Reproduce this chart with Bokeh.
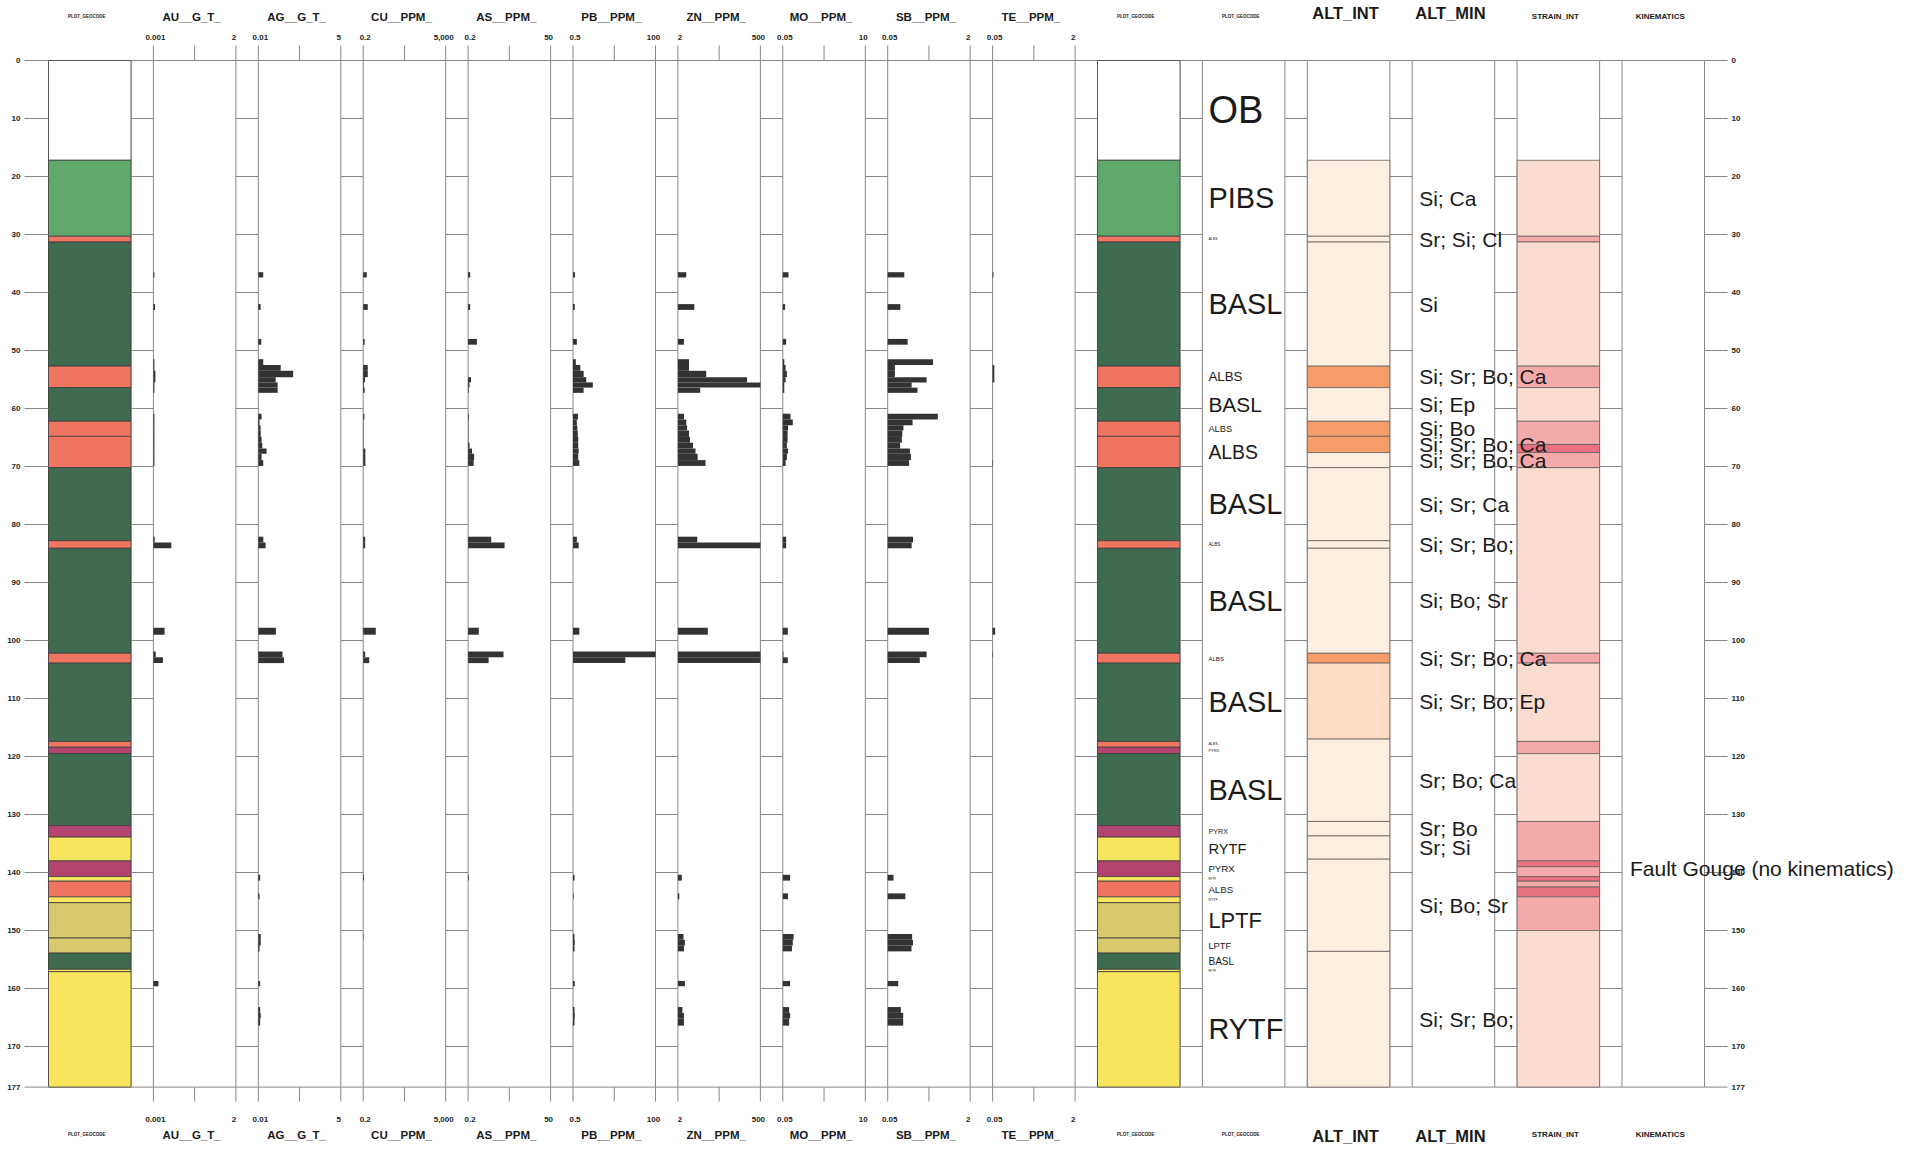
import numpy as np
from bokeh.plotting import figure
from bokeh.models import Range1d, LogScale, LinearScale, CoordinateMapping, ColumnDataSource
from bokeh.embed import file_html
from bokeh.resources import INLINE
from bokeh.core.properties import value

# ---------------- data ----------------
depth_ticks = [0, 10, 20, 30, 40, 50, 60, 70, 80, 90, 100, 110, 120, 130, 140, 150, 160, 170, 177]
DEPTH_MAX = 177

track_names = ["PLOT_GEOCODE", "AU__G_T_", "AG__G_T_", "CU__PPM_", "AS__PPM_", "PB__PPM_",
               "ZN__PPM_", "MO__PPM_", "SB__PPM_", "TE__PPM_", "PLOT_GEOCODE", "PLOT_GEOCODE",
               "ALT_INT", "ALT_MIN", "STRAIN_INT", "KINEMATICS"]

elem_keys = ["AU", "AG", "CU", "AS", "PB", "ZN", "MO", "SB", "TE"]
elem_min = [0.001, 0.01, 0.2, 0.2, 0.5, 2, 0.05, 0.05, 0.05]
elem_max = [2, 5, 5000, 50, 100, 500, 10, 2, 2]
elem_min_label = ["0.001", "0.01", "0.2", "0.2", "0.5", "2", "0.05", "0.05", "0.05"]
elem_max_label = ["2", "5", "5,000", "50", "100", "500", "10", "2", "2"]

geo_from = [0, 17.2, 30.3, 31.3, 52.7, 56.4, 62.2, 64.8, 70.2, 82.8, 84.1, 102.2, 103.9, 117.4,
            118.4, 119.5, 131.9, 133.9, 138.0, 140.7, 141.5, 144.2, 145.2, 151.3, 153.9, 156.7, 157.1]
geo_to = [17.2, 30.3, 31.3, 52.7, 56.4, 62.2, 64.8, 70.2, 82.8, 84.1, 102.2, 103.9, 117.4, 118.4,
          119.5, 131.9, 133.9, 138.0, 140.7, 141.5, 144.2, 145.2, 151.3, 153.9, 156.7, 157.1, 177]
geo_code = ["OB", "PIBS", "ALBS", "BASL", "ALBS", "BASL", "ALBS", "ALBS", "BASL", "ALBS", "BASL",
            "ALBS", "BASL", "ALBS", "PYRX", "BASL", "PYRX", "RYTF", "PYRX", "RYTF", "ALBS", "RYTF",
            "LPTF", "LPTF", "BASL", "RYTF", "RYTF"]

smp_from = [36.5, 42.0, 48.0, 51.5, 52.5, 53.5, 54.6, 55.5, 56.4, 60.9, 61.9, 62.9, 63.8, 64.9,
            65.9, 66.9, 67.8, 68.9, 82.1, 83.1, 97.8, 101.9, 102.9, 140.4, 143.6, 150.6, 151.6,
            152.6, 158.7, 163.2, 164.2, 165.2]
smp_to = [37.4, 43.0, 49.0, 52.5, 53.5, 54.6, 55.5, 56.4, 57.3, 61.9, 62.9, 63.8, 64.9, 65.9,
          66.9, 67.8, 68.9, 69.9, 83.1, 84.1, 99.0, 102.9, 103.9, 141.4, 144.6, 151.6, 152.6,
          153.6, 159.6, 164.2, 165.2, 166.4]

au = [0.0011, 0.00116, 0.001, 0.0011, 0.0011, 0.0012, 0.0012, 0.0011, 0.0011, 0.0011, 0.0011,
      0.0011, 0.0011, 0.0011, 0.0011, 0.0011, 0.0011, 0.0011, 0.00113, 0.0052, 0.0028, 0.00124,
      0.0024, 0.001, 0.001, 0.001, 0.001, 0.001, 0.0016, 0.001, 0.001, 0.001]
ag = [0.0145, 0.0119, 0.0125, 0.0145, 0.054, 0.138, 0.037, 0.043, 0.043, 0.0128, 0.011, 0.0119,
      0.012, 0.0128, 0.0135, 0.0186, 0.0128, 0.0145, 0.0146, 0.0174, 0.0377, 0.062, 0.069, 0.0115,
      0.011, 0.012, 0.012, 0.011, 0.0115, 0.0115, 0.012, 0.0115]
cu = [0.31, 0.35, 0.24, 0.2, 0.35, 0.35, 0.25, 0.22, 0.24, 0.23, 0.21, 0.21, 0.21, 0.21, 0.21,
      0.26, 0.26, 0.26, 0.255, 0.255, 0.94, 0.255, 0.42, 0.22, 0.2, 0.21, 0.2, 0.2, 0.2, 0.2, 0.2, 0.2]
as_ = [0.23, 0.23, 0.36, 0.2, 0.2, 0.2, 0.244, 0.22, 0.21, 0.21, 0.205, 0.205, 0.205, 0.205, 0.22,
       0.26, 0.3, 0.29, 0.94, 2.3, 0.41, 2.14, 0.79, 0.21, 0.2, 0.2, 0.2, 0.2, 0.2, 0.2, 0.2, 0.2]
pb = [0.57, 0.56, 0.64, 0.6, 0.8, 0.99, 1.17, 1.79, 0.99, 0.69, 0.64, 0.66, 0.68, 0.7, 0.7, 0.72,
      0.7, 0.75, 0.64, 0.72, 0.75, 100, 14.4, 0.55, 0.52, 0.55, 0.56, 0.55, 0.56, 0.55, 0.56, 0.55]
zn = [3.5, 6.0, 3.0, 4.2, 4.2, 13.3, 204, 500, 8.9, 3.0, 3.5, 3.7, 4.2, 4.5, 5.5, 6.5, 7.5, 12.7,
      7.3, 500, 14.8, 500, 500, 2.6, 2.2, 2.9, 3.2, 3.0, 3.2, 2.7, 3.0, 3.0]
mo = [0.072, 0.058, 0.062, 0.055, 0.06, 0.065, 0.06, 0.055, 0.055, 0.082, 0.095, 0.07, 0.068,
      0.068, 0.065, 0.07, 0.065, 0.06, 0.062, 0.062, 0.069, 0.052, 0.069, 0.08, 0.07, 0.1, 0.095,
      0.09, 0.08, 0.075, 0.08, 0.075]
sb = [0.105, 0.088, 0.122, 0.38, 0.069, 0.069, 0.285, 0.146, 0.19, 0.47, 0.152, 0.101, 0.096,
      0.094, 0.087, 0.135, 0.141, 0.13, 0.155, 0.146, 0.316, 0.285, 0.21, 0.065, 0.11, 0.149,
      0.155, 0.145, 0.08, 0.09, 0.1, 0.1]
te = [0.052, 0.05, 0.05, 0.05, 0.054, 0.054, 0.054, 0.05, 0.05, 0.05, 0.05, 0.05, 0.05, 0.05,
      0.05, 0.05, 0.05, 0.051, 0.05, 0.05, 0.056, 0.051, 0.05, 0.05, 0.05, 0.05, 0.05, 0.05, 0.05,
      0.05, 0.05, 0.05]

alt_from = [17.2, 30.3, 31.3, 52.7, 56.4, 62.2, 64.8, 67.6, 70.2, 82.8, 84.1, 102.2, 103.9, 117.0,
            131.2, 133.7, 137.7, 153.6]
alt_to = [30.3, 31.3, 52.7, 56.4, 62.2, 64.8, 67.6, 70.2, 82.8, 84.1, 102.2, 103.9, 117.0, 131.2,
          133.7, 137.7, 153.6, 177]
alt_int = ["Weak", "Weak", "Weak", "Strong", "Weak", "Strong", "Strong", "Weak", "Weak", "Weak",
           "Weak", "Strong", "Moderate", "Weak", "Weak", "Weak", "Weak", "Weak"]
alt_min = ["Si; Ca", "Sr; Si; Cl", "Si", "Si; Sr; Bo; Ca", "Si; Ep", "Si; Bo", "Si; Sr; Bo; Ca",
           "Si; Sr; Bo; Ca", "Si; Sr; Ca", "Si; Sr; Bo;", "Si; Bo; Sr", "Si; Sr; Bo; Ca",
           "Si; Sr; Bo; Ep", "Sr; Bo; Ca", "Sr; Bo", "Sr; Si", "Si; Bo; Sr", "Si; Sr; Bo;"]

st_from = [17.2, 30.3, 31.3, 52.7, 56.4, 62.2, 66.2, 67.6, 70.2, 102.2, 103.9, 117.4, 119.5, 131.2,
           138.0, 139.0, 140.7, 141.5, 142.5, 144.2, 150.0]
st_to = [30.3, 31.3, 52.7, 56.4, 62.2, 66.2, 67.6, 70.2, 102.2, 103.9, 117.4, 119.5, 131.2, 138.0,
         139.0, 140.7, 141.5, 142.5, 144.2, 150.0, 177]
st_int = ["Low", "Mod", "Low", "Mod", "Low", "Mod", "High", "Mod", "Low", "Mod", "Low", "Mod",
          "Low", "Mod", "High", "Mod", "High", "Mod", "High", "Mod", "Low"]

kin_from = [138.0]
kin_to = [140.7]
kin_text = ["Fault Gouge (no kinematics)"]

# ---------------- styles / layout ----------------
GEO_COLORS = {"OB": "#ffffff", "PIBS": "#5ea86c", "BASL": "#3f6b50", "ALBS": "#f07561",
              "PYRX": "#b3446f", "RYTF": "#f8e45e", "LPTF": "#d8c96c"}
ALT_COLORS = {"Weak": "#fdefdf", "Moderate": "#fcdcc3", "Strong": "#f59c69"}
ST_COLORS = {"Low": "#fbdcd1", "Mod": "#f4a9aa", "High": "#e8727f"}

W, H = 1916, 1148
X0, PITCH, TW = 48.0, 104.9, 82.5
Y0, PXM = 60.0, 5.80
GRID = "#8c8585"
HDR_FONT = value("Liberation Sans")
TXT_FONT = value("Liberation Sans")


def tl(i):
    return X0 + i * PITCH


def ypx(y_ref):
    return (y_ref - Y0) / PXM


p = figure(width=W, height=H, x_range=Range1d(0, W), y_range=Range1d(ypx(H), ypx(0)),
           output_backend="svg", toolbar_location=None, min_border=0,
           x_axis_location=None, y_axis_location=None, outline_line_color=None,
           background_fill_color="white", border_fill_color="white")
p.grid.visible = False

# track frames
p.quad(left=[tl(i) for i in range(16)], right=[tl(i) + TW for i in range(16)],
       top=0, bottom=DEPTH_MAX, fill_color="white", line_color=GRID, line_width=1)

# geocode columns
geo_src = ColumnDataSource(dict(top=geo_from, bottom=geo_to,
                                color=[GEO_COLORS[c] for c in geo_code]))
for ti in (0, 10):
    p.quad(left=tl(ti), right=tl(ti) + TW, top="top", bottom="bottom", source=geo_src,
           fill_color="color", line_color="#3c3c3c", line_width=0.8)

# alteration intensity
alt_src = ColumnDataSource(dict(top=alt_from, bottom=alt_to,
                                color=[ALT_COLORS[c] for c in alt_int]))
p.quad(left=tl(12), right=tl(12) + TW, top="top", bottom="bottom", source=alt_src,
       fill_color="color", line_color="#6a6060", line_width=0.8)

# strain intensity
st_src = ColumnDataSource(dict(top=st_from, bottom=st_to, color=[ST_COLORS[c] for c in st_int]))
p.quad(left=tl(14), right=tl(14) + TW, top="top", bottom="bottom", source=st_src,
       fill_color="color", line_color="#6a6060", line_width=0.8)

# assay bars (log scale per track)
mid = [(a + b) / 2 for a, b in zip(smp_from, smp_to)]
thk = [b - a for a, b in zip(smp_from, smp_to)]
elem_vals = [au, ag, cu, as_, pb, zn, mo, sb, te]
for k, vals in enumerate(elem_vals):
    L = tl(k + 1)
    src = ColumnDataSource(dict(y=mid, h=thk, v=vals))
    r = p.hbar(y="y", height="h", left=elem_min[k], right="v", source=src,
               fill_color="#333333", line_color=None)
    r.coordinates = CoordinateMapping(
        x_source=Range1d(elem_min[k], elem_max[k]), x_scale=LogScale(),
        x_target=Range1d(L, L + TW),
        y_source=Range1d(0, DEPTH_MAX), y_scale=LinearScale(),
        y_target=Range1d(0, DEPTH_MAX))

# depth ticks in gaps and on both sides
gx0, gx1, gy = [], [], []
for d in depth_ticks:
    for i in range(15):
        gx0.append(tl(i) + TW)
        gx1.append(tl(i + 1))
        gy.append(d)
    gx0 += [24, tl(15) + TW]
    gx1 += [tl(0), tl(15) + TW + 23]
    gy += [d, d]
p.segment(x0=gx0, y0=gy, x1=gx1, y1=gy, line_color=GRID, line_width=1)

# element axis ticks above / below
tx, ty0, ty1 = [], [], []
for k in range(9):
    L = tl(k + 1)
    for x in (L, L + TW / 2, L + TW):
        tx += [x, x]
        ty0 += [ypx(45), DEPTH_MAX]
        ty1 += [0, ypx(1101)]
p.segment(x0=tx, y0=ty0, x1=tx, y1=ty1, line_color=GRID, line_width=1)

# scale labels
lx, ly, lt = [], [], []
for k in range(9):
    L = tl(k + 1)
    for yy in (ypx(37), ypx(1119)):
        lx += [L + 2, L + TW - 2]
        ly += [yy, yy]
        lt += [elem_min_label[k], elem_max_label[k]]
p.text(x=lx, y=ly, text=lt, text_font=HDR_FONT, text_font_style="bold", text_font_size="8px",
       text_align="center", text_baseline="middle", text_color="#222222")

# track headers
hdr_size = {"ALT_INT": "16.5px", "ALT_MIN": "16.5px", "PLOT_GEOCODE": "4.5px",
            "STRAIN_INT": "8px", "KINEMATICS": "8px"}
hx, hy, ht, hs = [], [], [], []
for i, nm in enumerate(track_names):
    size = hdr_size.get(nm, "11.5px")
    big = nm in ("ALT_INT", "ALT_MIN")
    for yy in ((12 if big else 16), (1135 if big else 1134)):
        hx.append(tl(i) + TW / 2 - 3)
        hy.append(ypx(yy))
        ht.append(nm)
        hs.append(size)
p.text(x="x", y="y", text="t", text_font_size="s",
       source=ColumnDataSource(dict(x=hx, y=hy, t=ht, s=hs)),
       text_font=HDR_FONT, text_font_style="bold", text_align="center",
       text_baseline="middle", text_color="#1a1a1a")

# depth labels
dl = [str(d) for d in depth_ticks]
p.text(x=[20] * len(depth_ticks), y=depth_ticks, text=dl, text_font=HDR_FONT,
       text_font_style="bold", text_font_size="8px", text_align="right",
       text_baseline="middle", text_color="#222222")
p.text(x=[tl(15) + TW + 27] * len(depth_ticks), y=depth_ticks, text=dl, text_font=HDR_FONT,
       text_font_style="bold", text_font_size="8px", text_align="left",
       text_baseline="middle", text_color="#222222")

# geocode text column (size follows interval thickness)
g_mid = [(a + b) / 2 for a, b in zip(geo_from, geo_to)]
g_size = []
for a, b, c in zip(geo_from, geo_to, geo_code):
    hpx = (b - a) * PXM
    g_size.append("%.1fpx" % max(min(0.62 * hpx, 74.0 / (0.64 * len(c)), 38.0), 3.0))
p.text(x="x", y="y", text="t", text_font_size="s",
       source=ColumnDataSource(dict(x=[tl(11) + 6] * len(g_mid), y=g_mid, t=geo_code, s=g_size)),
       text_font=TXT_FONT, text_align="left", text_baseline="middle", text_color="#1a1a1a")

# alteration minerals
a_mid = [(a + b) / 2 for a, b in zip(alt_from, alt_to)]
p.text(x=[tl(13) + 7] * len(a_mid), y=a_mid, text=alt_min, text_font=TXT_FONT,
       text_font_size="21px", text_align="left", text_baseline="middle", text_color="#1a1a1a")

# kinematics
k_mid = [(a + b) / 2 for a, b in zip(kin_from, kin_to)]
p.text(x=[tl(15) + 8] * len(k_mid), y=k_mid, text=kin_text, text_font=TXT_FONT,
       text_font_size="21px", text_align="left", text_baseline="middle", text_color="#1a1a1a")

open("out.html", "w").write(file_html(p, INLINE))
